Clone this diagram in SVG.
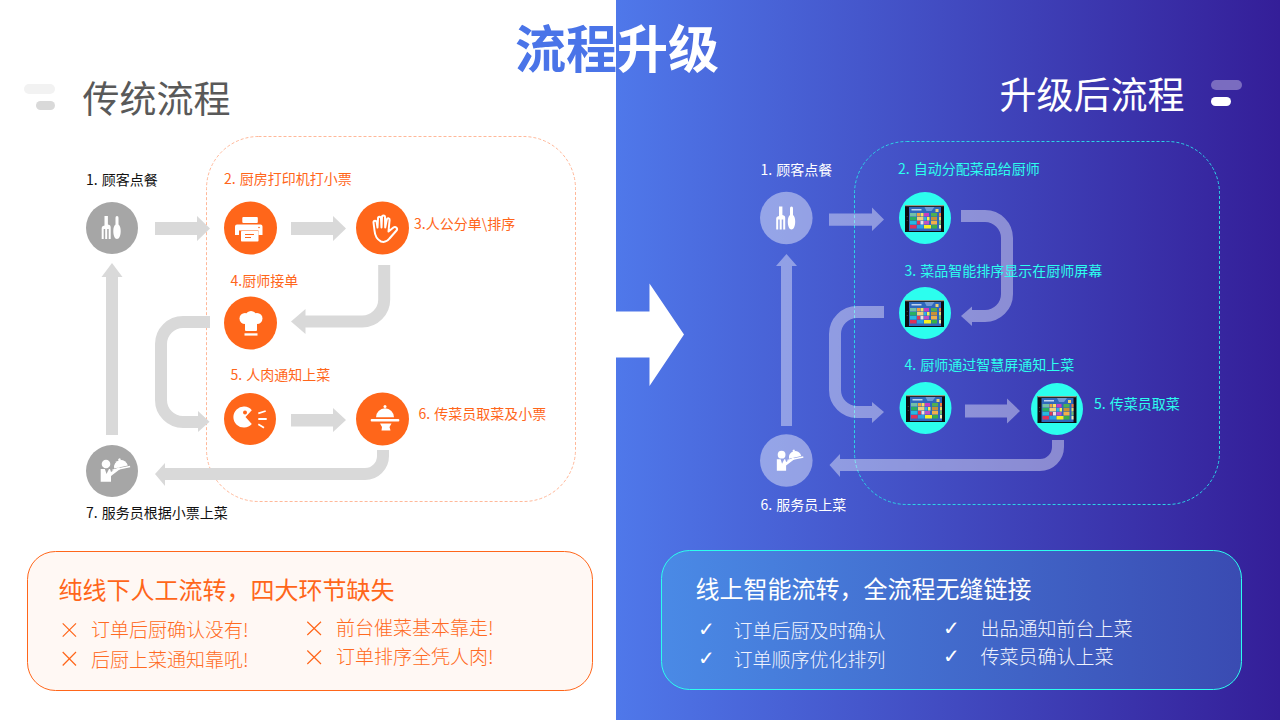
<svg xmlns="http://www.w3.org/2000/svg" xmlns:xlink="http://www.w3.org/1999/xlink" width="1280" height="720" viewBox="0 0 1280 720">
<style>
text{font-family:"Noto Sans CJK SC","Liberation Sans",sans-serif;font-weight:400}
.lb{font-size:14px;word-spacing:1px}
.or{fill:#ff661a}
.bk{fill:#111}
.wh{fill:#fff}
.cy{fill:#2cfeee}
.h1{font-size:37px}
.h2{font-size:24px}
.it{font-size:19px;font-weight:300}
.ol{fill:#ff6a22}
.wl{fill:#f0f3fd}
.a1{fill:#d9d9d9}
.s1{fill:none;stroke:#d9d9d9;stroke-width:12}
.a2{fill:#fff;fill-opacity:.4}
.s2{fill:none;stroke:#fff;stroke-opacity:.4;stroke-width:12}
.x{stroke:#ff661a;stroke-width:1.2;fill:none}
.ck{font-family:"DejaVu Sans",sans-serif;font-size:20px;fill:#fff}
.ico{fill:#fff}
</style>
<defs>
<linearGradient id="bg" x1="0" x2="1" y1="0" y2="0"><stop offset="0" stop-color="#4f78ea"/><stop offset="1" stop-color="#341e98"/></linearGradient>
<linearGradient id="bx" x1="0" x2="1" y1="0" y2="0"><stop offset="0" stop-color="#4a8ae6"/><stop offset="1" stop-color="#3a4bb2"/></linearGradient>
<g id="fork"><path class="ico" d="M-7.500-12h3.400v8.500c2.300.4 2.800 1.500 2.800 3V11H-3.300V1H-4.800V11H-6.800V1H-8.300V11H-10.300V.5c0-1.500.6-2.600 2.800-3z"/><path class="ico" d="M5-12c1 0 1.500.8 1.500 2.200v6.300c1.400 1.200 2.200 3.300 2.200 6.500 0 4.500-1.500 8-3.700 8S1.300 7.500 1.300 3c0-3.200.8-5.300 2.200-6.500V-9.800C3.500-11.200 4-12 5-12z"/></g>
<g id="printer"><rect class="ico" x="-9.500" y="-11" width="15.500" height="6" rx="1" transform="translate(1.800 0)"/><path class="ico" d="M-12.500-3.500h23.500a2 2 0 0 1 2 2V7h-4V2.500h-19.500V7h-4V-1.500a2 2 0 0 1 2-2z" transform="translate(-.5 0)"/><rect class="ico" x="-9.500" y="3" width="17.500" height="10.500" rx=".8" transform="translate(.5 0)"/><path d="M-5 6.500h9M-5 9.500h6" stroke="#ff661a" stroke-width="1"/><circle cx="9" cy="-.5" r=".8" fill="#ff661a"/></g>
<g id="hand"><path fill="none" stroke="#fff" stroke-width="2" stroke-linejoin="round" d="M-2 13C-6 11-8 8-8.500 2L-9.500-6C-9.500-8.500-6.500-8.500-6.300-6L-5.500-1-5-10C-5-12.500-2-12.500-2-10L-1.500-1-1-11.500C-1-13.500 2-13.500 2-11.500L2.200-1 3.800-9C4.300-11 6.800-10.500 6.600-8.500L5.500 3 10.500-1C12.500-2.500 15.500 0 13.500 2L6.500 10C4.500 12.500 1 14-2 13Z"/></g>
<g id="hat"><circle class="ico" cx="-6" cy="-4.500" r="5.500"/><circle class="ico" cx="0" cy="-6.500" r="5.500"/><circle class="ico" cx="6" cy="-4.500" r="5.500"/><rect class="ico" x="-6" y="-5" width="12" height="13" rx="1"/><rect class="ico" x="-6.500" y="10.300" width="13" height="2.300"/></g>
<g id="pac"><path class="ico" d="M5.300-9.300A10.500 10.500 0 1 0 5.300 4.500L-1-2.500z" transform="translate(-3.500 .5)"/><circle cx="-5" cy="-6.500" r="2" fill="#ff661a"/><path d="M8.300-5.700L15.700-8M8.300 0H16.700M8.300 5.300L14 8.700" stroke="#fff" stroke-width="1.800"/></g>
<g id="cloche"><path class="ico" d="M-6.500-1.700A9 9 0 0 1 11.500-1.700z"/><circle class="ico" cx="2.500" cy="-12.500" r="1.500"/><rect class="ico" x="-11.800" y="0" width="28.600" height="2.600" rx="1"/><path class="ico" d="M-2.500 4.500H9L7 8l1 3.500H-1L-.5 8z"/></g>
<g id="waiter"><circle class="ico" cx="-6" cy="-7" r="4.300"/><path class="ico" d="M-11.300-2h4.200L-5.500 3-3-2h1L-1 1 7-4l1.500 1.800L-1 5V10.700H-11.300z"/><g transform="rotate(-12 9 -4)"><path class="ico" d="M2-4a7 7 0 0 1 14 0z"/><circle class="ico" cx="9" cy="-11.500" r="1.300"/><rect class="ico" x="0" y="-3.300" width="18" height="1.500"/></g></g>
<g id="tablet">
<rect x="-19.500" y="-13.500" width="39" height="27" fill="#0c0c10"/>
<rect x="-19.500" y="-13.500" width="39" height="1.200" fill="#9a9a88"/>
<rect x="-15.500" y="-11.500" width="32" height="24" fill="#2f68bc"/>
<rect x="-13" y="-9.500" width="10" height="1.500" fill="#c4d6ee"/>
<path d="M0-11.500h10l-3 4h-5z" fill="#7fa8dc" opacity=".8"/>
<rect x="11" y="-9.500" width="3" height="3" fill="#f0d070"/>
<rect x="-14.500" y="-5.500" width="6.500" height="3.500" fill="#72c0a8"/><rect x="-7.500" y="-5.500" width="3" height="3.500" fill="#f0a040"/><rect x="-4" y="-5.500" width="3" height="3.500" fill="#f8e060"/><rect x="-.5" y="-5.500" width="5" height="3.500" fill="#c83cc0"/><rect x="6.500" y="-5.500" width="6" height="3.500" fill="#50b050"/><rect x="14.500" y="-5.500" width="2" height="3.500" fill="#f08040"/>
<rect x="-14.500" y="-1.500" width="6.500" height="3.500" fill="#28b060"/><rect x="-7.500" y="-1.500" width="6.500" height="3.500" fill="#f0d080"/><rect x="-.5" y="-1.500" width="2.500" height="3.500" fill="#30b0e8"/><rect x="2.500" y="-1.500" width="2.500" height="3.500" fill="#f8f050"/><rect x="6.500" y="-1.500" width="6" height="3.500" fill="#c89038"/><rect x="14.500" y="-1.500" width="2" height="3.500" fill="#e0e070"/>
<rect x="-14.500" y="2.500" width="6.500" height="3.500" fill="#28b8e0"/><rect x="-7.500" y="2.500" width="3" height="3.500" fill="#e03858"/><rect x="-4" y="2.500" width="3" height="3.500" fill="#f0e0e0"/><rect x="-.5" y="2.500" width="5" height="3.500" fill="#c050c0"/><rect x="6.500" y="2.500" width="6" height="3.500" fill="#f0b048"/><rect x="14.500" y="2.500" width="2" height="3.500" fill="#70c070"/>
<rect x="-14.500" y="6.500" width="6.500" height="3.500" fill="#e03058"/><rect x="-7.500" y="6.500" width="6.500" height="3.500" fill="#28a0e0"/><rect x="-.5" y="6.500" width="7" height="3.500" fill="#f8f020"/><rect x="7" y="6.500" width="5.500" height="3.500" fill="#38b048"/><rect x="14.500" y="6.500" width="2" height="3.500" fill="#f0f0b0"/>
<circle cx="-17.300" cy="-2" r=".5" fill="#555"/><circle cx="-17.300" cy="2" r=".5" fill="#555"/>
</g>
</defs>
<rect width="1280" height="720" fill="#fff"/>
<rect x="616" width="664" height="720" fill="url(#bg)"/>
<polygon id="center-arrow" fill="#fff" points="616,311.500 649.500,311.500 649.500,283.500 684,334.500 649.500,386 649.500,357.500 616,357.500"/>
<text id="main-title" x="515" y="68" style="font-size:51px;font-weight:700"><tspan fill="#4a74e8">流程</tspan><tspan fill="#fff">升级</tspan></text>
<g id="left-heading">
<rect x="24" y="84" width="31" height="10" rx="5" fill="#f2f2f2"/>
<rect x="36" y="101" width="19" height="9" rx="4.500" fill="#d9d9d9"/>
<text class="h1" x="82.500" y="113" fill="#595959">传统流程</text>
</g>
<g id="right-heading">
<rect x="1211" y="80" width="31" height="10" rx="5" fill="#7a6cc0"/>
<rect x="1211" y="97" width="20" height="9" rx="4.500" fill="#fff"/>
<text class="h1" x="999.500" y="109" fill="#fff">升级后流程</text>
</g>
<rect id="left-zone" x="206.500" y="136.500" width="369" height="365" rx="52" fill="none" stroke="#ffb899" stroke-width="1" stroke-dasharray="3 2"/>
<rect id="right-zone" x="854.500" y="141.500" width="365" height="363" rx="52" fill="none" stroke="#2cd4e6" stroke-width="1" stroke-dasharray="3 2"/>
<g id="connectors-left">
<polygon class="a1" points="155,222 197,222 197,216 210,228.500 197,241 197,235 155,235"/>
<polygon class="a1" points="291,222 333,222 333,216 346,228.500 333,241 333,235 291,235"/>
<path class="s1" d="M384.200 265V299.500A22 22 0 0 1 362.200 321.500H305"/>
<polygon class="a1" points="305.500,309 291,321.500 305.500,334"/>
<path class="s1" d="M210 322H183A22 22 0 0 0 161 344V400A22 22 0 0 0 183 422H199"/>
<polygon class="a1" points="198,411 209.500,421.700 198,432"/>
<polygon class="a1" points="291,414 333,414 333,408 346,420 333,432 333,426.500 291,426.500"/>
<path class="s1" d="M383 450V456A18 18 0 0 1 365 474H165"/>
<polygon class="a1" points="165,463 155,474 165,486"/>
<polygon class="a1" points="106,435 106,277 101.500,277 112,263 122.500,277 118,277 118,435"/>
</g>
<g id="connectors-right">
<polygon class="a2" points="829,213.500 872,213.500 872,207.500 884,219.500 872,231 872,225.700 829,225.700"/>
<path class="s2" d="M961 216H985A22 22 0 0 1 1007 238V294A22 22 0 0 1 985 316H972"/>
<polygon class="a2" points="972,306.500 961,316 972,326"/>
<path class="s2" d="M884 312H857A22 22 0 0 0 835 334V390A22 22 0 0 0 857 412H872"/>
<polygon class="a2" points="872,402 884,412 872,423"/>
<polygon class="a2" points="965,404.500 1007,404.500 1007,398.500 1020,411 1007,423.500 1007,417.500 965,417.500"/>
<path class="s2" d="M1058 440V447A18 18 0 0 1 1040 465H840"/>
<polygon class="a2" points="840,454 829.500,465 840,477"/>
<polygon class="a2" points="781,426 781,266 776,266 786.500,254 797,266 792,266 792,426"/>
</g>
<g id="n1"><circle cx="112" cy="228" r="26" fill="#a6a6a6"/><use xlink:href="#fork" href="#fork" transform="translate(112 228)"/><text class="lb bk" x="86" y="185">1. 顾客点餐</text></g>
<g id="n2"><circle cx="250.500" cy="228" r="26.500" fill="#ff661a"/><use xlink:href="#printer" href="#printer" transform="translate(250 228)"/><text class="lb or" x="224" y="184">2. 厨房打印机打小票</text></g>
<g id="n3"><circle cx="382.500" cy="228" r="26.500" fill="#ff661a"/><use xlink:href="#hand" href="#hand" transform="translate(383 228.500)"/><text class="lb or" x="414" y="229">3.人公分单\排序</text></g>
<g id="n4"><circle cx="250.500" cy="323" r="26.500" fill="#ff661a"/><use xlink:href="#hat" href="#hat" transform="translate(251 323)"/><text class="lb or" x="230.500" y="286">4.厨师接单</text></g>
<g id="n5"><circle cx="250" cy="419" r="26" fill="#ff661a"/><use xlink:href="#pac" href="#pac" transform="translate(250 419)"/><text class="lb or" x="230.500" y="380">5. 人肉通知上菜</text></g>
<g id="n6"><circle cx="382.500" cy="419" r="26.500" fill="#ff661a"/><use xlink:href="#cloche" href="#cloche" transform="translate(382.500 419)"/><text class="lb or" x="418.500" y="419">6. 传菜员取菜及小票</text></g>
<g id="n7"><circle cx="112" cy="471" r="26" fill="#a6a6a6"/><use xlink:href="#waiter" href="#waiter" transform="translate(112 471)"/><text class="lb bk" x="86" y="518">7. 服务员根据小票上菜</text></g>
<g id="r1"><circle cx="786.300" cy="218" r="26.300" fill="#fff" fill-opacity=".42"/><use xlink:href="#fork" href="#fork" transform="translate(786.500 218.500)"/><text class="lb wh" x="760.500" y="175">1. 顾客点餐</text></g>
<g id="r2"><circle cx="925" cy="218" r="26" class="cy"/><use xlink:href="#tablet" href="#tablet" transform="translate(924.500 218.500)"/><text class="lb cy" x="898" y="174">2. 自动分配菜品给厨师</text></g>
<g id="r3"><circle cx="925" cy="313" r="26" class="cy"/><use xlink:href="#tablet" href="#tablet" transform="translate(924.500 313.500)"/><text class="lb cy" x="904.500" y="276">3. 菜品智能排序显示在厨师屏幕</text></g>
<g id="r4"><circle cx="925.500" cy="408" r="26" class="cy"/><use xlink:href="#tablet" href="#tablet" transform="translate(925.500 408.500)"/><text class="lb cy" x="904.500" y="370">4. 厨师通过智慧屏通知上菜</text></g>
<g id="r5"><circle cx="1057" cy="409" r="26" class="cy"/><use xlink:href="#tablet" href="#tablet" transform="translate(1057 409.500)"/><text class="lb cy" x="1094" y="409">5. 传菜员取菜</text></g>
<g id="r6"><circle cx="786.300" cy="460.500" r="26.300" fill="#fff" fill-opacity=".42"/><use xlink:href="#waiter" href="#waiter" transform="translate(787 461) scale(.9)"/><text class="lb wh" x="760.500" y="510">6. 服务员上菜</text></g>
<g id="left-box">
<rect x="27.500" y="551.500" width="565" height="139" rx="28" fill="#fff8f4" stroke="#ff661a"/>
<text class="h2" x="58.500" y="599" fill="#ff661a">纯线下人工流转，四大环节缺失</text>
<path class="x" d="M62.700 623.300L76 636.700M76 623.300L62.700 636.700M62.700 652L76 665.500M76 652L62.700 665.500M307.300 621.700L321 635M321 621.700L307.300 635M307.300 650.500L321 664M321 650.500L307.300 664"/>
<text class="it ol" x="91" y="637">订单后厨确认没有!</text>
<text class="it ol" x="91" y="667">后厨上菜通知靠吼!</text>
<text class="it ol" x="336" y="635">前台催菜基本靠走!</text>
<text class="it ol" x="336" y="664">订单排序全凭人肉!</text>
</g>
<g id="right-box">
<rect x="661.500" y="550.500" width="580" height="139" rx="28" fill="url(#bx)" stroke="#2cfeee"/>
<text class="h2" x="695.500" y="598" fill="#fff">线上智能流转，全流程无缝链接</text>
<text class="ck" x="698" y="636">✓</text>
<text class="ck" x="698" y="665">✓</text>
<text class="ck" x="943" y="635">✓</text>
<text class="ck" x="943" y="663">✓</text>
<text class="it wl" x="733.500" y="638">订单后厨及时确认</text>
<text class="it wl" x="733.500" y="667">订单顺序优化排列</text>
<text class="it wl" x="980.500" y="636">出品通知前台上菜</text>
<text class="it wl" x="980.500" y="664">传菜员确认上菜</text>
</g>
</svg>
